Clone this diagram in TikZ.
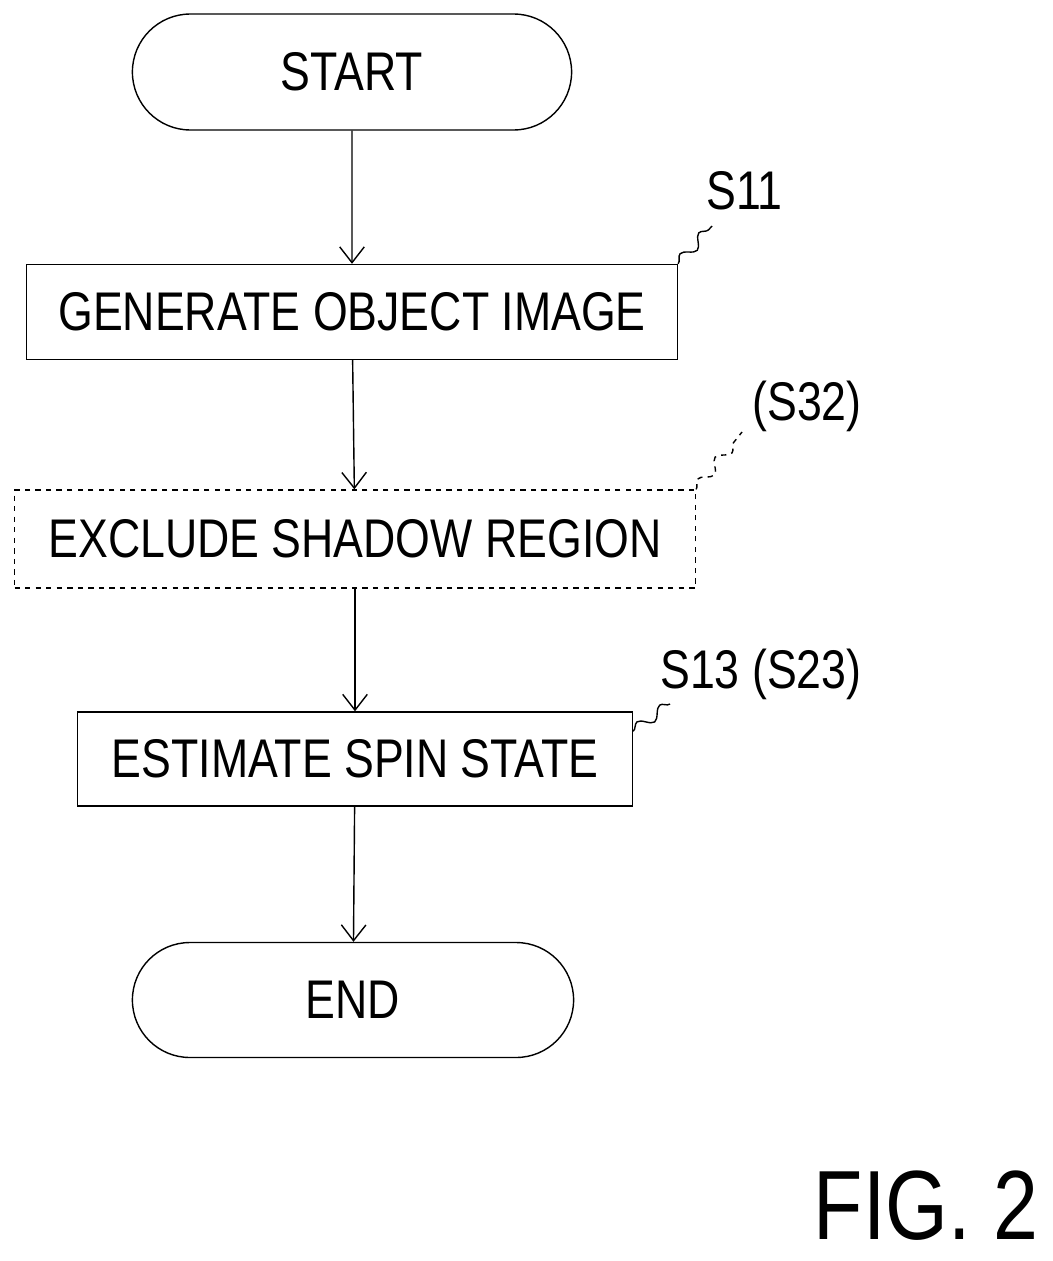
\documentclass[tikz,border=0pt]{standalone}
\usepackage{fontspec}
\setmainfont[FakeStretch=0.82]{Liberation Sans}
\usetikzlibrary{arrows.meta,positioning,shapes.misc,decorations.pathmorphing}
\tikzset{%
      term/.style={draw, thick, rounded rectangle, minimum width=9.02cm, minimum height=2.32cm},
      etape/.style={draw, thick, minimum height=1.9cm},
      line/.style={draw, thick, -{Straight Barb[length=9pt,width=14pt]}},
      leader/.style={draw, thick, decorate, decoration={snake, amplitude=3pt, segment length=16pt}},
      tag/.style={anchor=south west, inner sep=0pt},
    }
\begin{document}
\begin{tikzpicture}[x=0.02cm, y=-0.02cm, font=\fontsize{31}{36}\selectfont]
      \useasboundingbox (0,0) rectangle (1053,1261);

      % Draw diagram elements
      \node (start) [term] at (352,72) {START};
      \node (p1) [etape, minimum width=13.02cm] at (352,312) {GENERATE OBJECT IMAGE};
      \node (p2) [etape, dashed, minimum width=13.62cm, minimum height=1.96cm] at (355,539) {EXCLUDE SHADOW REGION};
      \node (p3) [etape, minimum width=11.1cm, minimum height=1.88cm] at (355,759) {ESTIMATE SPIN STATE};
      \node (end) [term, minimum width=9.06cm, minimum height=2.3cm] at (353,1000) {END};

      % Draw arrows between elements
      \path [line] (start) -- (p1);
      \path [line] (p1) -- (p2);
      \path [line] (p2) -- (p3);
      \path [line] (p3) -- (end);

      % Step labels
      \coordinate (c1) at (712,226);
      \coordinate (c2) at (742,432);
      \coordinate (c3) at (670,704);
      \path [leader] (p1.north east) -- (c1);
      \path [leader, dashed] (p2.north east) -- (c2);
      \path [leader] ([yshift=-0.4cm]p3.north east) -- (c3);
      \node (s11) [tag] at (706,210) {S11};
      \node (s32) [tag] at (752,432) {(S32)};
      \node (s13) [tag] at (660,700) {S13 (S23)};

      \node (fig) [font=\fontsize{56}{62}\selectfont] at (926,1206) {FIG. 2};
\end{tikzpicture}
\end{document}
